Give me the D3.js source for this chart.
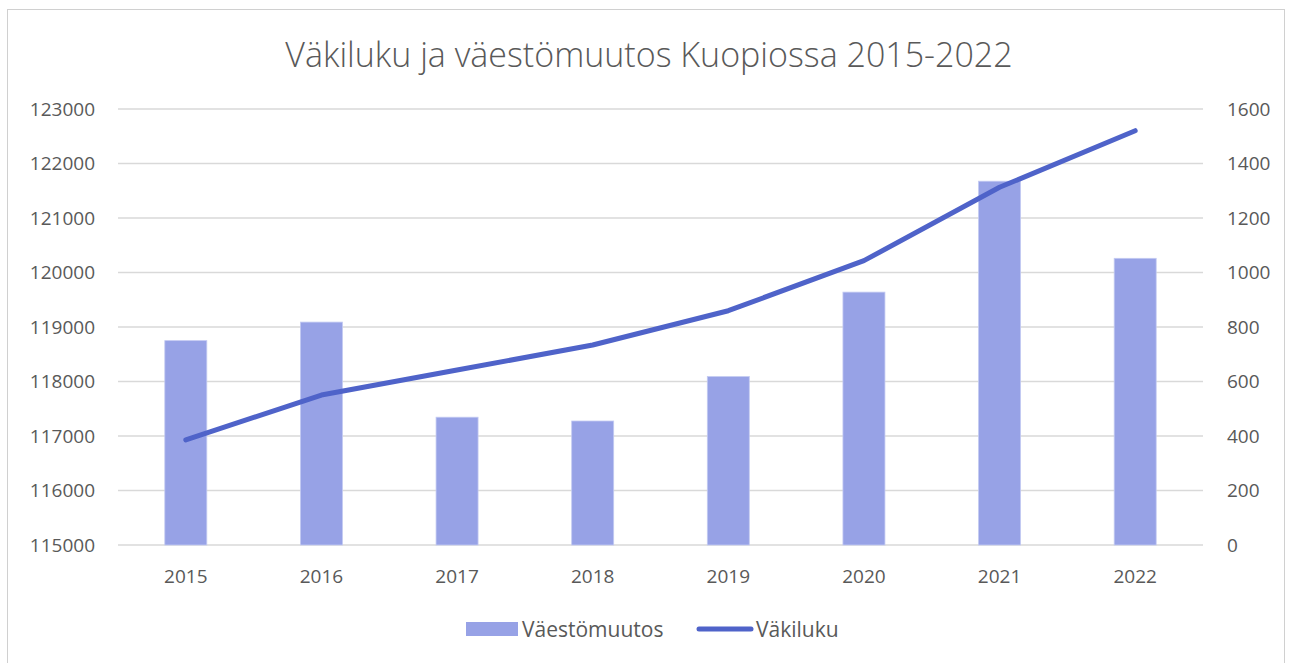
<!DOCTYPE html>
<html>
<head>
<meta charset="utf-8">
<script src="https://cdn.jsdelivr.net/npm/d3@7"></script>
<style>
  body { margin: 0; background: #fff; }
  svg text { font-family: "Open Sans", "Noto Sans", sans-serif; fill: #595959; }
</style>
</head>
<body>
<div id="chart"></div>
<script>
const years = ["2015", "2016", "2017", "2018", "2019", "2020", "2021", "2022"]
const vaestomuutos = [750, 818, 469, 455, 618, 928, 1335, 1052]
const vakiluku = [116927, 117752, 118210, 118670, 119299, 120217, 121563, 122602]
const leftTicks = [115000, 116000, 117000, 118000, 119000, 120000, 121000, 122000, 123000]
const rightTicks = [0, 200, 400, 600, 800, 1000, 1200, 1400, 1600]

const width = 1290
const height = 663
const plot = { left: 118, right: 1203, top: 109, bottom: 545 }

const svg = d3.select("#chart")
    .append("svg")
    .attr("width", width)
    .attr("height", height)

// chart frame
svg.append("rect")
    .attr("x", 7.5)
    .attr("y", 9.5)
    .attr("width", 1277)
    .attr("height", 670)
    .attr("fill", "none")
    .attr("stroke", "#d0d0d0")
    .attr("stroke-width", 1)

svg.append("text")
    .text("Väkiluku ja väestömuutos Kuopiossa 2015-2022")
    .attr("x", 649)
    .attr("y", 67)
    .attr("text-anchor", "middle")
    .style("font-size", "34px")
    .style("font-weight", 300)

const x = d3.scaleBand().domain(years).range([plot.left, plot.right])
const yLeft = d3.scaleLinear().domain([115000, 123000]).range([plot.bottom, plot.top])
const yRight = d3.scaleLinear().domain([0, 1600]).range([plot.bottom, plot.top])

// gridlines
svg.append("g")
    .selectAll("line")
    .data(leftTicks)
    .join("line")
    .attr("x1", plot.left)
    .attr("x2", plot.right)
    .attr("y1", d => yLeft(d))
    .attr("y2", d => yLeft(d))
    .attr("stroke", "#d9d9d9")
    .attr("stroke-width", 1.5)

// left axis
const leftAxis = svg.append("g")
    .attr("transform", `translate(${plot.left - 23},0)`)
    .call(d3.axisLeft(yLeft).tickValues(leftTicks).tickSize(0).tickPadding(0).tickFormat(d3.format("d")))
leftAxis.select(".domain").remove()
leftAxis.selectAll("text").style("font-size", "19px").attr("fill", "#595959")

// right axis
const rightAxis = svg.append("g")
    .attr("transform", `translate(${plot.right + 24},0)`)
    .call(d3.axisRight(yRight).tickValues(rightTicks).tickSize(0).tickPadding(0).tickFormat(d3.format("d")))
rightAxis.select(".domain").remove()
rightAxis.selectAll("text").style("font-size", "19px").attr("fill", "#595959")

// x axis
const bottomAxis = svg.append("g")
    .attr("transform", `translate(0,${plot.bottom + 24})`)
    .call(d3.axisBottom(x).tickSize(0).tickPadding(0))
bottomAxis.select(".domain").remove()
bottomAxis.selectAll("text").style("font-size", "19px").attr("fill", "#595959")

// bars
const barWidth = 42
svg.append("g")
    .selectAll("rect")
    .data(vaestomuutos)
    .join("rect")
    .attr("x", (d, i) => x(years[i]) + x.bandwidth() / 2 - barWidth / 2)
    .attr("y", d => yRight(d))
    .attr("width", barWidth)
    .attr("height", d => yRight(0) - yRight(d))
    .attr("fill", "#97a2e6")
    .attr("stroke", "#c3caf2")
    .attr("stroke-width", 0.8)

// line
const line = d3.line()
    .x((d, i) => x(years[i]) + x.bandwidth() / 2)
    .y(d => yLeft(d))
svg.append("path")
    .datum(vakiluku)
    .attr("d", line)
    .attr("fill", "none")
    .attr("stroke", "#4f63c9")
    .attr("stroke-width", 5)
    .attr("stroke-linecap", "round")
    .attr("stroke-linejoin", "round")

// legend
svg.append("rect")
    .attr("x", 466)
    .attr("y", 622)
    .attr("width", 52)
    .attr("height", 14)
    .attr("fill", "#97a2e6")
svg.append("text")
    .text("Väestömuutos")
    .attr("x", 522)
    .attr("y", 637)
    .style("font-size", "21px")
svg.append("line")
    .attr("x1", 699)
    .attr("x2", 751)
    .attr("y1", 629)
    .attr("y2", 629)
    .attr("stroke", "#4f63c9")
    .attr("stroke-width", 5)
    .attr("stroke-linecap", "round")
svg.append("text")
    .text("Väkiluku")
    .attr("x", 756)
    .attr("y", 637)
    .style("font-size", "21px")
</script>
</body>
</html>
